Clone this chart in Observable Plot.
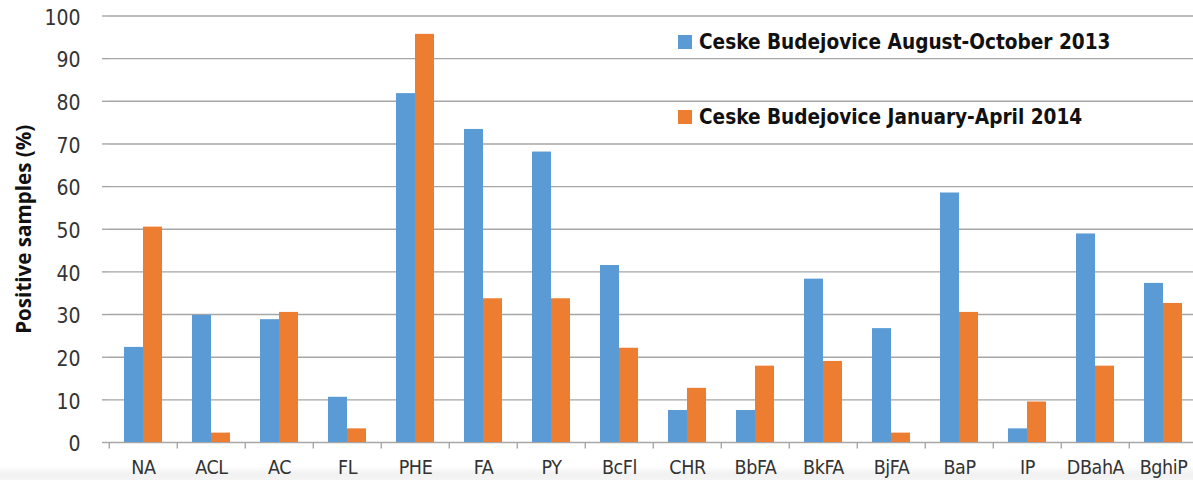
<!DOCTYPE html>
<html>
<head>
<meta charset="utf-8">
<script src="https://cdn.jsdelivr.net/npm/d3@7"></script>
<script src="https://cdn.jsdelivr.net/npm/@observablehq/plot@0.6"></script>
<style>
  html, body { margin: 0; padding: 0; overflow: hidden; }
  body { width: 1193px; height: 480px; background: linear-gradient(to bottom, #ffffff 0px, #ffffff 466px, #f1f1f1 474px, #f4f4f4 480px); }
  #wrap { position: relative; width: 1193px; height: 480px; }
  #wrap svg.plot { background: transparent; }
  .narrow { font-family: "Liberation Sans Narrow", "DejaVu Sans Condensed", "Roboto", sans-serif; font-stretch: condensed; }
  #legend { position: absolute; left: 678px; top: 0; font-family: "Liberation Sans Narrow", "DejaVu Sans Condensed", "Roboto", sans-serif; font-stretch: condensed; font-weight: bold; font-size: 20.6px; color: #111; }
  #legend .item { position: absolute; white-space: nowrap; display: flex; align-items: center; }
  #legend .sw { width: 14px; height: 14px; margin-right: 7px; }
  [aria-label="y-axis label"] text { font-family: "Open Sans", sans-serif; font-stretch: normal; font-weight: bold; font-size: 20.6px; fill: #111; }
  [aria-label="fx-axis tick label"] text { letter-spacing: -0.4px; }
</style>
</head>
<body>
<div id="wrap"></div>
<script>
const categories = ["NA","ACL","AC","FL","PHE","FA","PY","BcFl","CHR","BbFA","BkFA","BjFA","BaP","IP","DBahA","BghiP"];
const seriesNames = ["Ceske Budejovice August-October 2013","Ceske Budejovice January-April 2014"];
const augOct2013 = [22.3, 29.8, 28.8, 10.6, 81.8, 73.4, 68.1, 41.5, 7.5, 7.5, 38.3, 26.7, 58.5, 3.2, 48.9, 37.3];
const janApr2014 = [50.5, 2.2, 30.5, 3.2, 95.7, 33.7, 33.7, 22.1, 12.7, 17.9, 19.0, 2.2, 30.5, 9.5, 17.9, 32.6];
const seriesColors = ["#5B9BD5","#ED7D31"];
const yTicks = [0,10,20,30,40,50,60,70,80,90,100];
const yLabel = "Positive samples (%)";

const seriesValues = [augOct2013, janApr2014];
const rows = categories.flatMap((c, i) => seriesNames.map((s, k) => ({category: c, series: s, value: seriesValues[k][i]})));

const gray = "#a6a6a6";
const W = 1193, marginLeft = 105, marginRight = -7;
const step = (W - marginRight - marginLeft) / categories.length;

const chart = Plot.plot({
  width: W,
  height: 480,
  marginLeft,
  marginRight,
  marginTop: 15.5,
  marginBottom: 38,
  className: "narrow",
  style: {fontSize: "19px", color: "#333", background: "transparent"},
  fx: {domain: categories, padding: 0, axis: null, label: null},
  x: {domain: seriesNames, paddingInner: 0, paddingOuter: 0.756, axis: null},
  y: {domain: [0, 100], axis: null},
  color: {domain: seriesNames, range: seriesColors},
  marks: [
    Plot.gridY(yTicks, {stroke: gray, strokeOpacity: 1, strokeWidth: 1.4}),
    Plot.axisY(yTicks, {anchor: "left", tickSize: 7, text: null, label: null, stroke: gray, strokeWidth: 1.4, strokeOpacity: 1}),
    Plot.axisY(yTicks, {
      anchor: "left", tickSize: 0, tickPadding: 29, fill: "#333", fontSize: 21, dy: 2,
      label: yLabel, labelAnchor: "center", labelArrow: "none", labelOffset: 93
    }),
    Plot.barY(rows, {fx: "category", x: "series", y: "value", fill: "series"}),
    Plot.axisFx({anchor: "bottom", tickSize: 6.5, text: null, label: null, dx: -step / 2, stroke: gray, strokeWidth: 1.4, strokeOpacity: 1}),
    Plot.axisFx({anchor: "bottom", tickSize: 0, tickPadding: 18, fill: "#333", fontSize: 19.5, label: null})
  ]
});

const wrap = document.getElementById("wrap");
wrap.appendChild(chart);

const legend = document.createElement("div");
legend.id = "legend";
const legendTops = [30, 105];
seriesNames.forEach((name, k) => {
  const item = document.createElement("div");
  item.className = "item";
  item.style.top = legendTops[k] + "px";
  const sw = document.createElement("span");
  sw.className = "sw";
  sw.style.background = seriesColors[k];
  const tx = document.createElement("span");
  tx.textContent = name;
  item.appendChild(sw);
  item.appendChild(tx);
  legend.appendChild(item);
});
wrap.appendChild(legend);
</script>
</body>
</html>
